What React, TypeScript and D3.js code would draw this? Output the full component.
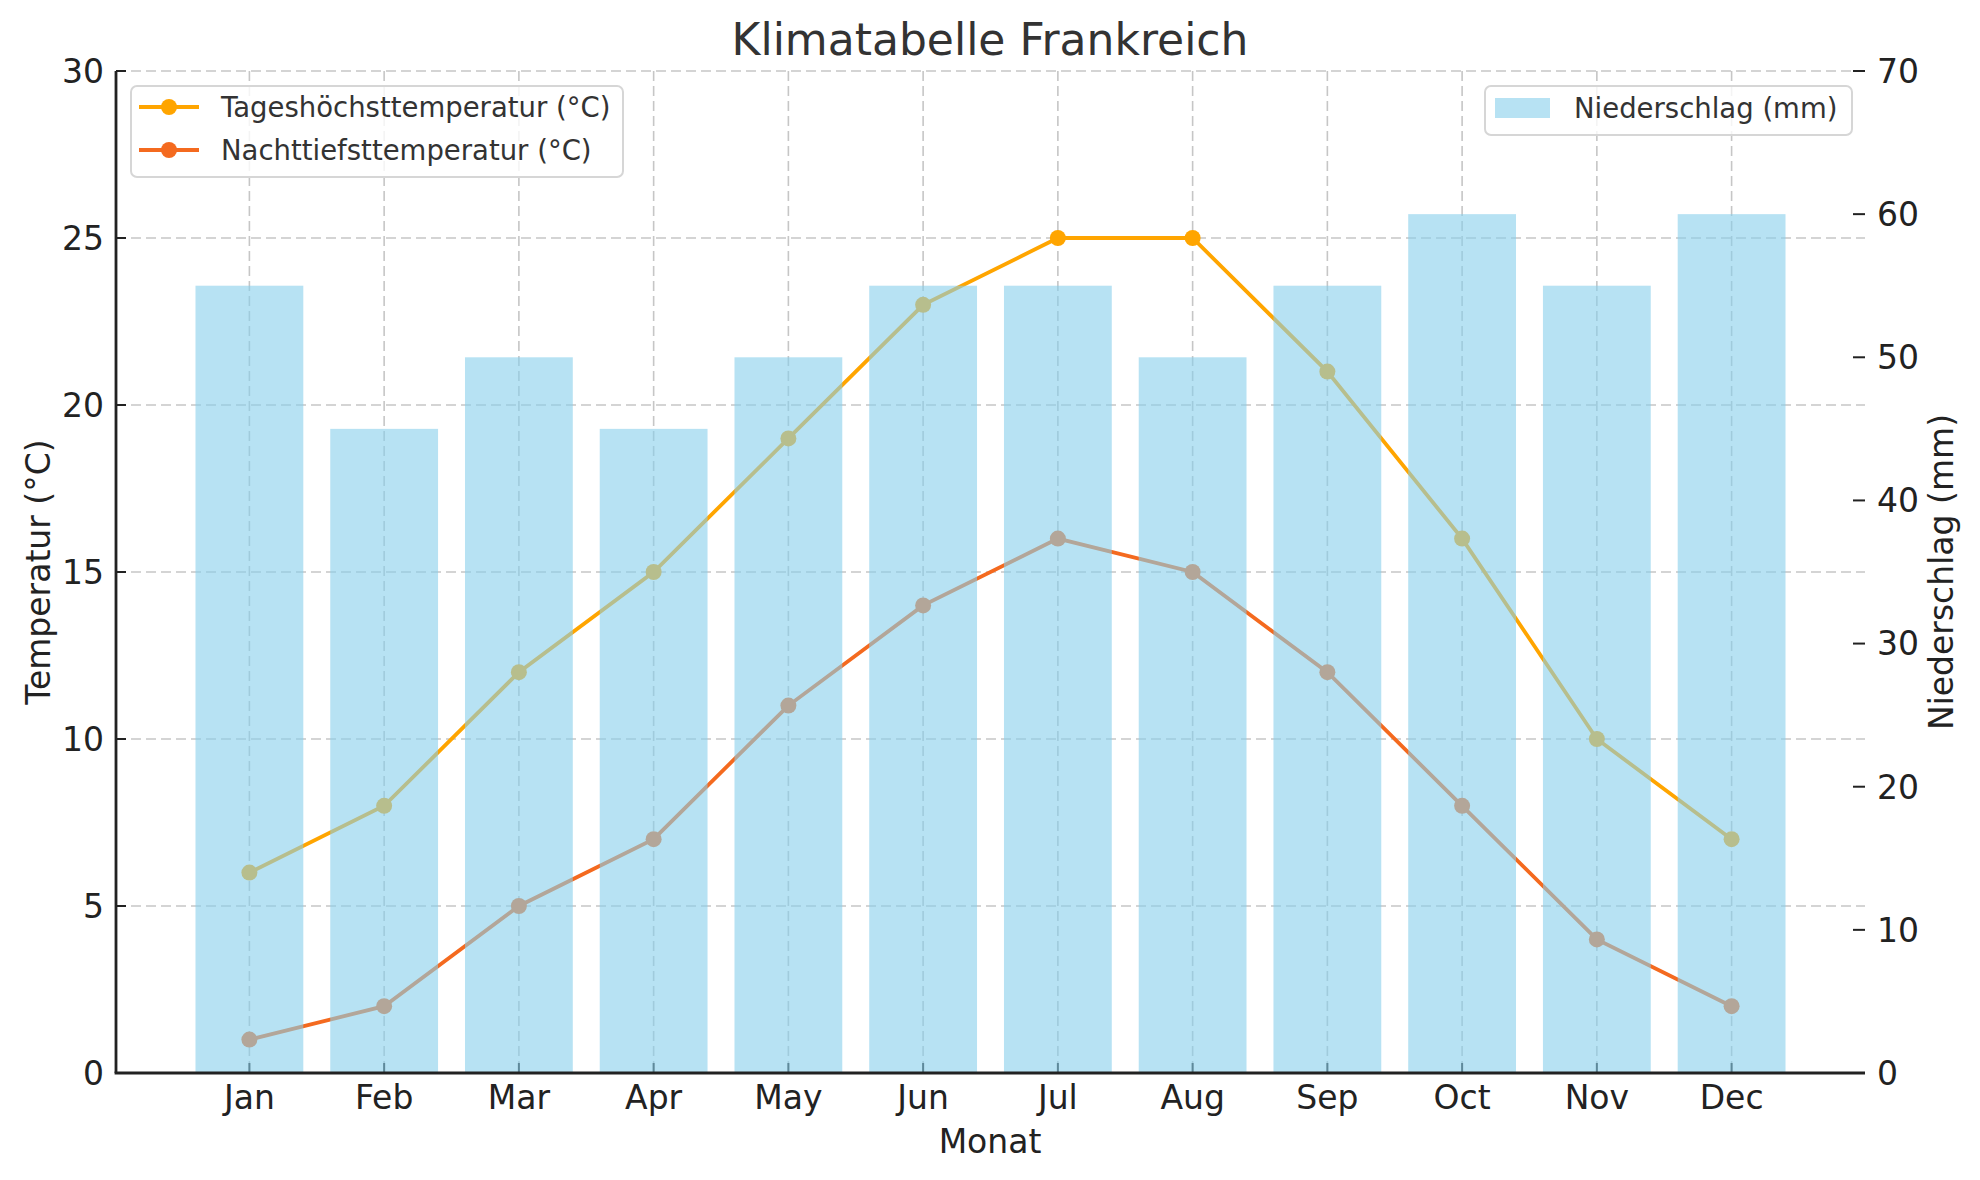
import React from "react";
import * as d3 from "d3";

const months = ["Jan", "Feb", "Mar", "Apr", "May", "Jun", "Jul", "Aug", "Sep", "Oct", "Nov", "Dec"];
const highTemp = [6, 8, 12, 15, 19, 23, 25, 25, 21, 16, 10, 7];
const lowTemp = [1, 2, 5, 7, 11, 14, 16, 15, 12, 8, 4, 2];
const precip = [55, 45, 50, 45, 50, 55, 55, 50, 55, 60, 55, 60];
const tempTicks = [0, 5, 10, 15, 20, 25, 30];
const precipTicks = [0, 10, 20, 30, 40, 50, 60, 70];

const W = 1980, H = 1180;
const L = 116, R = 1865, T = 71, B = 1073;
const FONT = "'DejaVu Sans', sans-serif";
const HIGH_C = "#FFA500";
const LOW_C = "#F46A1F";
const BAR_C = "#87CEEB";
const GRID_C = "#c6c6c6";

export default function App() {
  const x = d3.scaleLinear().domain([-0.99, 11.99]).range([L, R]);
  const yT = d3.scaleLinear().domain([0, 30]).range([B, T]);
  const yP = d3.scaleLinear().domain([0, 70]).range([B, T]);
  const bw = x(0.8) - x(0);
  const line = d3.line<number>().x((_, i) => x(i)).y((d) => yT(d));

  return (
    <svg width={W} height={H} style={{ position: "absolute", left: 0, top: 0, background: "#fff" }} fontFamily={FONT}>
      {/* grid */}
      {tempTicks.map((t) => (
        <line key={"hg" + t} x1={L} x2={R} y1={yT(t)} y2={yT(t)} stroke={GRID_C} strokeWidth={1.6} strokeDasharray="10,5" />
      ))}
      {months.map((m, i) => (
        <line key={"vg" + m} x1={x(i)} x2={x(i)} y1={T} y2={B} stroke={GRID_C} strokeWidth={1.6} strokeDasharray="10,5" />
      ))}
      {/* inward ticks left & bottom */}
      {tempTicks.map((t) => (
        <line key={"lt" + t} x1={L} x2={L + 10} y1={yT(t)} y2={yT(t)} stroke="#222" strokeWidth={2} />
      ))}
      {months.map((m, i) => (
        <line key={"bt" + m} x1={x(i)} x2={x(i)} y1={B} y2={B - 10} stroke="#222" strokeWidth={2} />
      ))}
      {/* lines */}
      <path d={line(highTemp) || ""} fill="none" stroke={HIGH_C} strokeWidth={3.8} />
      {highTemp.map((v, i) => (
        <circle key={"hm" + i} cx={x(i)} cy={yT(v)} r={8} fill={HIGH_C} />
      ))}
      <path d={line(lowTemp) || ""} fill="none" stroke={LOW_C} strokeWidth={3.8} />
      {lowTemp.map((v, i) => (
        <circle key={"lm" + i} cx={x(i)} cy={yT(v)} r={8} fill={LOW_C} />
      ))}
      {/* bars */}
      {precip.map((v, i) => (
        <rect key={"b" + i} x={x(i) - bw / 2} y={yP(v)} width={bw} height={yP(0) - yP(v)} fill={BAR_C} fillOpacity={0.6} />
      ))}
      {/* spines */}
      <line x1={L} x2={L} y1={T} y2={B} stroke="#222" strokeWidth={2.8} />
      <line x1={L - 1.4} x2={R} y1={B} y2={B} stroke="#222" strokeWidth={2.8} />
      {/* right ticks */}
      {precipTicks.map((t) => (
        <line key={"rt" + t} x1={R - 12} x2={R} y1={yP(t)} y2={yP(t)} stroke="#222" strokeWidth={2} />
      ))}
      {/* tick labels */}
      {tempTicks.map((t) => (
        <text key={"ltl" + t} x={L - 12} y={yT(t)} dy="0.36em" textAnchor="end" fontSize={33} fill="#222">{t}</text>
      ))}
      {precipTicks.map((t) => (
        <text key={"rtl" + t} x={R + 12} y={yP(t)} dy="0.36em" textAnchor="start" fontSize={33} fill="#222">{t}</text>
      ))}
      {months.map((m, i) => (
        <text key={"btl" + m} x={x(i)} y={1109} textAnchor="middle" fontSize={33} fill="#222">{m}</text>
      ))}
      {/* axis labels */}
      <text x={990} y={1153} textAnchor="middle" fontSize={33} fill="#222">Monat</text>
      <text transform={`translate(50,${(T + B) / 2}) rotate(-90)`} textAnchor="middle" fontSize={33} fill="#222">Temperatur (°C)</text>
      <text transform={`translate(1953,${(T + B) / 2}) rotate(-90)`} textAnchor="middle" fontSize={33} fill="#222">Niederschlag (mm)</text>
      {/* title */}
      <text x={990} y={55} textAnchor="middle" fontSize={44} fill="#333">Klimatabelle Frankreich</text>
      {/* legend 1 */}
      <rect x={131} y={86} width={492} height={91} rx={6} fill="#fff" fillOpacity={0.8} stroke="#d6d6d6" strokeWidth={2} />
      <line x1={139} x2={199} y1={107} y2={107} stroke={HIGH_C} strokeWidth={3.8} />
      <circle cx={169} cy={107} r={8} fill={HIGH_C} />
      <text x={221} y={107} dy="0.36em" fontSize={27.5} fill="#333">Tageshöchsttemperatur (°C)</text>
      <line x1={139} x2={199} y1={150} y2={150} stroke={LOW_C} strokeWidth={3.8} />
      <circle cx={169} cy={150} r={8} fill={LOW_C} />
      <text x={221} y={150} dy="0.36em" fontSize={27.5} fill="#333">Nachttiefsttemperatur (°C)</text>
      {/* legend 2 */}
      <rect x={1485} y={86} width={367} height={49} rx={6} fill="#fff" fillOpacity={0.8} stroke="#d6d6d6" strokeWidth={2} />
      <rect x={1495} y={98} width={55} height={20} fill={BAR_C} fillOpacity={0.6} />
      <text x={1574} y={108} dy="0.36em" fontSize={27.5} fill="#333">Niederschlag (mm)</text>
    </svg>
  );
}
